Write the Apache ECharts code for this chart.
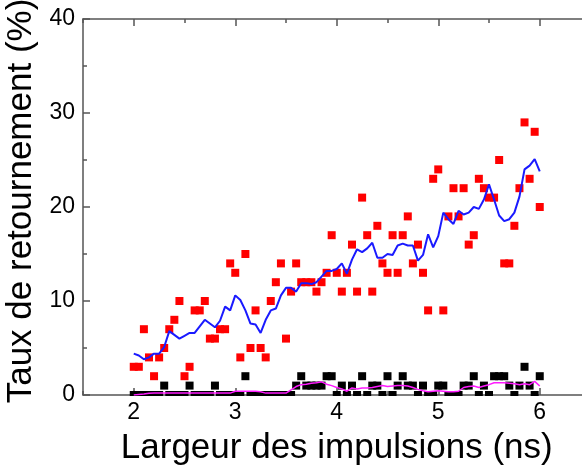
<!DOCTYPE html>
<html>
<head>
<meta charset="utf-8">
<script src="https://cdn.jsdelivr.net/npm/echarts@6.0.0/dist/echarts.min.js"></script>
<style>
  html, body { margin: 0; padding: 0; background: #fff; }
  #main { width: 582px; height: 468px; }
</style>
</head>
<body>
<div id="main"></div>
<script>
// largeur des impulsions (ns)
var widths = [2.00, 2.05, 2.10, 2.15, 2.20, 2.25, 2.30, 2.35, 2.40, 2.45,
    2.50, 2.55, 2.60, 2.65, 2.70, 2.75, 2.80, 2.85, 2.90, 2.95,
    3.00, 3.05, 3.10, 3.15, 3.20, 3.25, 3.30, 3.35, 3.40, 3.45,
    3.50, 3.55, 3.60, 3.65, 3.70, 3.75, 3.80, 3.85, 3.90, 3.95,
    4.00, 4.05, 4.10, 4.15, 4.20, 4.25, 4.30, 4.35, 4.40, 4.45,
    4.50, 4.55, 4.60, 4.65, 4.70, 4.75, 4.80, 4.85, 4.90, 4.95,
    5.00, 5.05, 5.10, 5.15, 5.20, 5.25, 5.30, 5.35, 5.40, 5.45,
    5.50, 5.55, 5.60, 5.65, 5.70, 5.75, 5.80, 5.85, 5.90, 5.95,
    6.00];

// points rouges
var redPts = [3, 3, 7, 4, 2, 4, 5, 7, 8, 10,
    2, 3, 9, 9, 10, 6, 6, 7, 7, 14,
    13, 4, 15, 5, 9, 5, 4, 10, 12, 14,
    6, 11, 14, 12, 12, 12, 11, 12, 13, 17,
    13, 11, 13, 16, 11, 21, 17, 11, 18, 14,
    13, 17, 13, 17, 19, 14, 16, 13, 9, 23,
    24, 9, 19, 22, 19, 22, 16, 17, 23, 22,
    21, 21, 25, 14, 14, 18, 22, 29, 23, 28,
    20];

// courbe bleue
var blueLine = [4.4, 4.2, 3.8, 4.0, 4.4, 4.4, 5.1, 6.8, 6.4, 6.0,
    6.3, 6.6, 6.6, 7.3, 8.0, 7.6, 7.2, 7.9, 9.4, 9.0,
    10.6, 10.1, 9.0, 7.6, 7.5, 6.6, 8.0, 9.0, 9.2, 10.6,
    11.4, 11.4, 11.0, 11.9, 11.9, 11.8, 12.0, 12.6, 13.2, 13.2,
    13.4, 14.0, 12.9, 14.4, 15.5, 15.2, 15.6, 16.2, 14.6, 14.6,
    15.0, 14.9, 15.9, 16.1, 15.9, 15.9, 14.3, 14.9, 17.1, 15.7,
    16.9, 19.4, 18.7, 18.2, 19.6, 19.2, 19.4, 20.0, 19.8, 20.8,
    22.4, 20.8, 19.1, 18.5, 18.7, 19.4, 21.1, 24.0, 24.4, 25.1,
    23.8];

// points noirs
var blackPts = [0, 0, 0, 0, 0, 0, 1, 0, 0, 0,
    0, 1, 0, 0, 0, 0, 1, 0, 0, 0,
    0, 0, 2, 0, 0, 0, 0, 0, 0, 0,
    0, 0, 1, 2, 1, 1, 1, 1, 2, 2,
    0, 1, 0, 1, 0, 2, 0, 1, 1, 0,
    2, 0, 1, 2, 1, 1, 0, 1, 0, 0,
    1, 1, 0, 0, 0, 1, 1, 2, 0, 1,
    0, 2, 2, 2, 1, 0, 1, 3, 1, 0,
    2];

// courbe magenta
var magentaLine = [0, 0.05, 0.1, 0.18, 0.2, 0.2, 0.2, 0.2, 0.2, 0.2,
    0.2, 0.2, 0.2, 0.2, 0.2, 0.2, 0.2, 0.2, 0.2, 0.2,
    0.4, 0.4, 0.4, 0.4, 0.4, 0.35, 0.2, 0.2, 0.2, 0.2,
    0.2, 0.55, 0.9, 1.1, 1.15, 1.25, 1.3, 1.4, 1.15, 1.0,
    0.8, 0.65, 0.4, 0.75, 0.65, 0.75, 0.75, 0.8, 0.9, 1.0,
    0.9, 0.95, 1.0, 1.0, 0.95, 0.8, 0.6, 0.45, 0.35, 0.4,
    0.45, 0.4, 0.35, 0.35, 0.4, 0.8, 0.9, 0.95, 0.8, 0.95,
    1.1, 1.3, 1.3, 1.3, 1.25, 1.2, 1.1, 1.2, 1.1, 1.45,
    0.95];

var xMajor = [2, 3, 4, 5, 6];

function pairs(ys) {
    var out = [];
    for (var i = 0; i < widths.length; i++) {
        out.push([widths[i], ys[i]]);
    }
    return out;
}

var axisColor = '#555';
var font = "'Liberation Sans', Arial, sans-serif";

function xAx(pos, major, withLabels) {
    var ax = {
        type: 'value',
        position: pos,
        min: 1.5,
        max: 6.5,
        interval: 0.5,
        axisLine: {show: major, lineStyle: {color: axisColor, width: 1.5}},
        axisTick: {inside: true, length: major ? 7 : 4, lineStyle: {color: axisColor, width: 1.5}},
        axisLabel: {show: false},
        splitLine: {show: false}
    };
    if (major) ax.axisTick.customValues = xMajor;
    if (withLabels) {
        ax.axisLabel = {show: true, customValues: xMajor, fontSize: 23, color: '#000', margin: 6, fontFamily: font};
        ax.name = 'Largeur des impulsions (ns)';
        ax.nameLocation = 'middle';
        ax.nameGap = 36;
        ax.nameTextStyle = {fontSize: 35, color: '#000', fontFamily: font};
    }
    return ax;
}

var chart = echarts.init(document.getElementById('main'));
chart.setOption({
    animation: false,
    backgroundColor: '#fff',
    grid: {left: 83, top: 19, width: 507.5, height: 376, outerBoundsMode: 'none'},
    xAxis: [
        xAx('bottom', true, true),
        xAx('bottom', false, false),
        xAx('top', true, false),
        xAx('top', false, false)
    ],
    yAxis: {
        type: 'value',
        min: 0,
        max: 40,
        interval: 10,
        axisLine: {show: true, lineStyle: {color: axisColor, width: 1.5}},
        axisTick: {inside: true, length: 7, lineStyle: {color: axisColor, width: 1.5}},
        minorTick: {show: true, splitNumber: 2, length: 4, lineStyle: {color: axisColor, width: 1.5}},
        axisLabel: {fontSize: 23, color: '#000', margin: 8, fontFamily: font},
        splitLine: {show: false},
        name: 'Taux de retournement (%)',
        nameLocation: 'middle',
        nameGap: 28,
        nameTextStyle: {fontSize: 35, color: '#000', fontFamily: font, padding: [0, 0, 0, 12]}
    },
    // cache la moitié basse des carrés posés sur l'axe
    graphic: [{
        type: 'rect',
        shape: {x: 83, y: 396, width: 510, height: 6},
        style: {fill: '#fff'},
        z: 100
    }],
    series: [{
        type: 'scatter',
        data: pairs(blackPts),
        symbol: 'rect',
        symbolSize: 8,
        itemStyle: {color: '#000', opacity: 1},
        z: 2
    }, {
        type: 'scatter',
        data: pairs(redPts),
        symbol: 'rect',
        symbolSize: 8,
        itemStyle: {color: '#ff0000', opacity: 1},
        z: 3
    }, {
        type: 'line',
        data: pairs(blueLine),
        showSymbol: false,
        lineStyle: {color: '#1a1aff', width: 2},
        z: 4
    }, {
        type: 'line',
        data: pairs(magentaLine),
        showSymbol: false,
        lineStyle: {color: '#ff1aff', width: 1.5},
        z: 5
    }]
});
</script>
</body>
</html>
